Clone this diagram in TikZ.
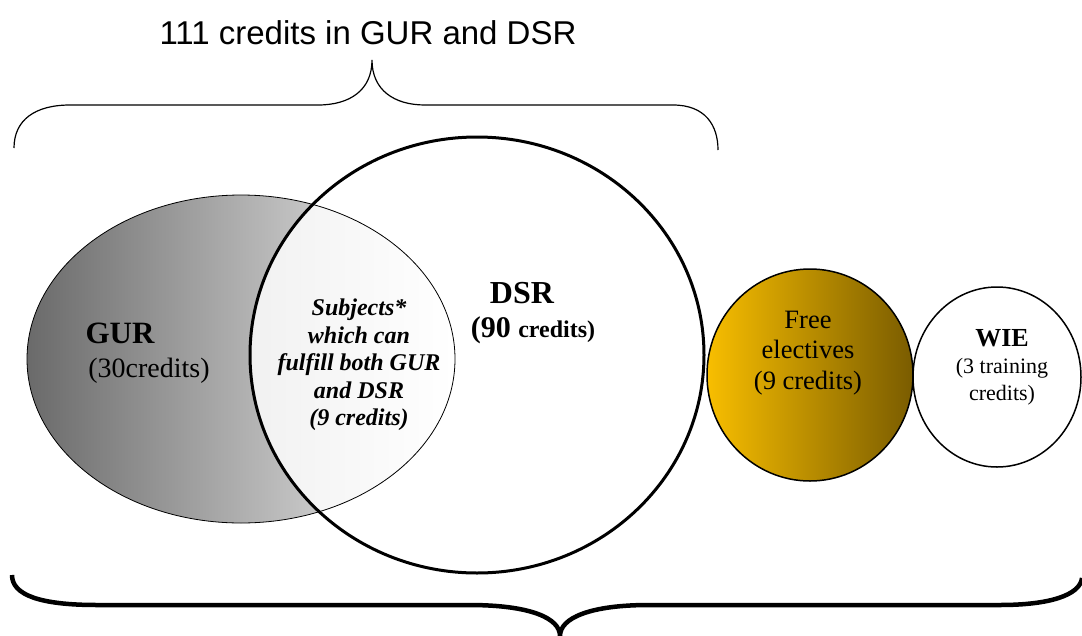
\documentclass[tikz,border=0pt]{standalone}
\usepackage{fontspec}
\setmainfont{Liberation Serif}
\newfontfamily\arialf{Liberation Sans}
\definecolor{gurdark}{HTML}{6A6A6A}
\definecolor{gurlight}{HTML}{F4F4F4}
\definecolor{overlapl}{HTML}{E2E2E2}
\definecolor{fegold}{HTML}{F8BE00}
\definecolor{febrown}{HTML}{7A5C00}
\begin{document}
\begin{tikzpicture}[x=1pt,y=-1pt,
  thinbrace/.style={line width=1.2pt},
  thickbrace/.style={line width=4.5pt},
  lbl/.style={inner sep=0pt, align=center}]
\useasboundingbox (0,0) rectangle (1082,635);
% GUR ellipse with gradient
\shade[left color=gurdark, right color=gurlight] (241,359) ellipse [x radius=214, y radius=164];
% overlap region lighter
\begin{scope}
  \clip (477,355) ellipse [x radius=227, y radius=218];
  \shade[left color=overlapl, right color=white] (241,359) ellipse [x radius=214, y radius=164];
\end{scope}
\draw[line width=0.8pt] (241,359) ellipse [x radius=214, y radius=164];
% DSR circle
\draw[line width=3pt] (477,355) ellipse [x radius=227, y radius=218];
% Free electives
\shade[left color=fegold, right color=febrown] (810,375) ellipse [x radius=103, y radius=106];
\draw[line width=1.5pt] (810,375) ellipse [x radius=103, y radius=106];
% WIE
\draw[line width=1.5pt] (997,377) ellipse [x radius=84, y radius=90];
% texts
\node[lbl, font=\fontsize{33}{38}\selectfont\arialf] (title) at (368,33) {111 credits in GUR and DSR};
\node[lbl, font=\fontsize{31}{36}\selectfont\bfseries] (gurt) at (120,333) {GUR};
\node[lbl, font=\fontsize{28}{32}\selectfont] (gurc) at (149,371) {(30credits)};
\node[lbl, font=\fontsize{24}{27.5}\selectfont\bfseries\itshape] (both) at (359,365) {Subjects*\\which can\\fulfill both GUR\\and DSR\\(9 credits)};
\node[lbl, font=\fontsize{32}{38}\selectfont\bfseries] (dsrt) at (522,293) {DSR};
\node[lbl, font=\bfseries] (dsrc) at (533,330) {{\fontsize{30}{34}\selectfont(90\ }{\fontsize{24}{28}\selectfont credits)}};
\node[lbl, font=\fontsize{26.5}{30.5}\selectfont] (fe) at (808,353) {Free\\electives\\(9 credits)};
\node[lbl, font=\fontsize{26}{30}\selectfont\bfseries] (wiet) at (1002,338) {WIE};
\node[lbl, font=\fontsize{22}{27}\selectfont] (wiec) at (1002,382) {(3 training\\credits)};
% top brace
\draw[thinbrace] (14,148) .. controls (14,120) and (35,105) .. (70,105) -- (318,105)
  .. controls (350,105) and (372,90) .. (372,60)
  .. controls (372,90) and (394,105) .. (425,105) -- (673,105)
  .. controls (705,105) and (718,125) .. (718,150);
% bottom brace
\draw[thickbrace] (12,575) .. controls (12,595) and (40,605) .. (97,605) -- (469,605)
  .. controls (530,605) and (560,618) .. (560,636)
  .. controls (560,618) and (590,605) .. (649,605) -- (1000,605)
  .. controls (1050,605) and (1080,595) .. (1082,578);
\end{tikzpicture}
\end{document}
